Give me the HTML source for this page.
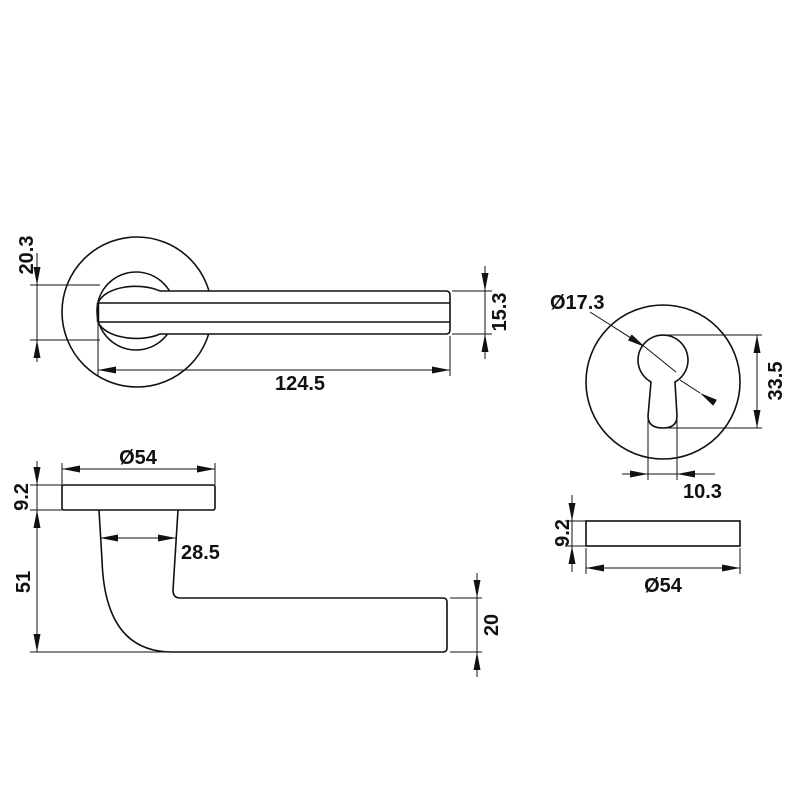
<!DOCTYPE html>
<html><head><meta charset="utf-8"><style>html,body{margin:0;padding:0;background:#fff}svg{display:block}text{font-family:"Liberation Sans",sans-serif;font-weight:bold;font-size:20px;fill:#111}</style></head><body>
<svg width="800" height="800" viewBox="0 0 800 800" xmlns="http://www.w3.org/2000/svg">
<defs>
<marker id="a" viewBox="0 0 18 7" refX="18" refY="3.5" markerWidth="18" markerHeight="7" orient="auto" markerUnits="userSpaceOnUse"><path d="M0,0 L18,3.5 L0,7 Z" fill="#111"/></marker>
</defs>
<g fill="none" stroke="#111" stroke-width="1.6">
<circle cx="137" cy="312" r="75" fill="#fff"/>
<circle cx="136" cy="311" r="39" fill="#fff"/>
<path d="M160,291 C140,282 105,286 98,303" fill="#fff"/>
<path d="M160,334 C140,343 105,338 98,322" fill="#fff"/>
<path d="M160,291 L446,291 Q450,291 450,295 L450,330 Q450,334 446,334 L160,334" fill="#fff"/>
<line x1="98" y1="303" x2="450" y2="303"/>
<line x1="98" y1="322" x2="450" y2="322"/>
<line x1="98" y1="303" x2="98" y2="322" stroke-width="2.5"/>
</g>
<g stroke="#111" stroke-width="1" fill="none">
<line x1="30" y1="285" x2="100" y2="285"/><line x1="30" y1="340" x2="100" y2="340"/>
<line x1="37" y1="253" x2="37" y2="285" marker-end="url(#a)"/>
<line x1="37" y1="362" x2="37" y2="340" marker-end="url(#a)"/>
<line x1="37" y1="285" x2="37" y2="340"/>
<line x1="452" y1="291" x2="492" y2="291"/><line x1="452" y1="334" x2="492" y2="334"/>
<line x1="485" y1="266" x2="485" y2="291" marker-end="url(#a)"/>
<line x1="485" y1="359" x2="485" y2="334" marker-end="url(#a)"/>
<line x1="485" y1="291" x2="485" y2="334"/>
<line x1="98" y1="322" x2="98" y2="376"/><line x1="450" y1="336" x2="450" y2="376"/>
<line x1="275" y1="370" x2="98" y2="370" marker-end="url(#a)"/>
<line x1="275" y1="370" x2="450" y2="370" marker-end="url(#a)"/>
</g>
<text x="300" y="390" text-anchor="middle">124.5</text>
<text transform="translate(33,255) rotate(-90)" text-anchor="middle">20.3</text>
<text transform="translate(506,312) rotate(-90)" text-anchor="middle">15.3</text>

<g fill="none" stroke="#111" stroke-width="1.6">
<rect x="62" y="485" width="153" height="25" rx="2" fill="#fff"/>
<path d="M99,510 L102,560 C104,625 130,652 172,652 L443,652 Q447,652 447,648 L447,602 Q447,598 443,598 L180,598 Q173,598 173,590 L178,510"/>
</g>
<g stroke="#111" stroke-width="1" fill="none">
<line x1="62" y1="463" x2="62" y2="485"/><line x1="215" y1="463" x2="215" y2="485"/>
<line x1="138" y1="469" x2="62" y2="469" marker-end="url(#a)"/>
<line x1="138" y1="469" x2="215" y2="469" marker-end="url(#a)"/>
<line x1="30" y1="485" x2="62" y2="485"/><line x1="30" y1="510" x2="62" y2="510"/>
<line x1="37" y1="461" x2="37" y2="485" marker-end="url(#a)"/>
<line x1="37" y1="485" x2="37" y2="510"/>
<line x1="37" y1="581" x2="37" y2="510" marker-end="url(#a)"/>
<line x1="37" y1="581" x2="37" y2="652" marker-end="url(#a)"/>
<line x1="30" y1="652" x2="172" y2="652"/>
<line x1="138" y1="538" x2="100" y2="538" marker-end="url(#a)"/>
<line x1="138" y1="538" x2="176" y2="538" marker-end="url(#a)"/>
<line x1="450" y1="598" x2="482" y2="598"/><line x1="450" y1="652" x2="482" y2="652"/>
<line x1="477" y1="573" x2="477" y2="598" marker-end="url(#a)"/>
<line x1="477" y1="677" x2="477" y2="652" marker-end="url(#a)"/>
<line x1="477" y1="598" x2="477" y2="652"/>
</g>
<text x="138" y="464" text-anchor="middle">Ø54</text>
<text x="181" y="559">28.5</text>
<text transform="translate(28,497) rotate(-90)" text-anchor="middle">9.2</text>
<text transform="translate(30,582) rotate(-90)" text-anchor="middle">51</text>
<text transform="translate(498,625) rotate(-90)" text-anchor="middle">20</text>

<g fill="none" stroke="#111" stroke-width="1.6">
<circle cx="663" cy="382" r="77"/>
<path d="M651,382 A25,25 0 1 1 675,382 L677,416 Q677,428 663,428 Q648,428 648,416 Z"/>
<rect x="586" y="521" width="154" height="25"/>
</g>
<g stroke="#111" stroke-width="1" fill="none">
<line x1="665" y1="335" x2="762" y2="335"/><line x1="665" y1="428" x2="762" y2="428"/>
<line x1="757" y1="381" x2="757" y2="335" marker-end="url(#a)"/>
<line x1="757" y1="381" x2="757" y2="428" marker-end="url(#a)"/>
<line x1="648" y1="420" x2="648" y2="480"/><line x1="677" y1="420" x2="677" y2="480"/>
<line x1="622" y1="474" x2="648" y2="474" marker-end="url(#a)"/>
<line x1="715" y1="474" x2="677" y2="474" marker-end="url(#a)"/>
<line x1="648" y1="474" x2="677" y2="474"/>
<line x1="590" y1="312" x2="645" y2="347" marker-end="url(#a)"/>
<line x1="645" y1="347" x2="676" y2="372"/>
<line x1="700" y1="393" x2="680" y2="380" marker-start="url(#a)"/>
<line x1="565" y1="521" x2="586" y2="521"/><line x1="565" y1="546" x2="586" y2="546"/>
<line x1="572" y1="495" x2="572" y2="521" marker-end="url(#a)"/>
<line x1="572" y1="572" x2="572" y2="546" marker-end="url(#a)"/>
<line x1="572" y1="521" x2="572" y2="546"/>
<line x1="586" y1="548" x2="586" y2="574"/><line x1="740" y1="548" x2="740" y2="574"/>
<line x1="663" y1="568" x2="586" y2="568" marker-end="url(#a)"/>
<line x1="663" y1="568" x2="740" y2="568" marker-end="url(#a)"/>
</g>
<text x="550" y="309">Ø17.3</text>
<text x="683" y="498">10.3</text>
<text transform="translate(782,381) rotate(-90)" text-anchor="middle">33.5</text>
<text transform="translate(569,533) rotate(-90)" text-anchor="middle">9.2</text>
<text x="663" y="592" text-anchor="middle">Ø54</text>
</svg>
</body></html>
